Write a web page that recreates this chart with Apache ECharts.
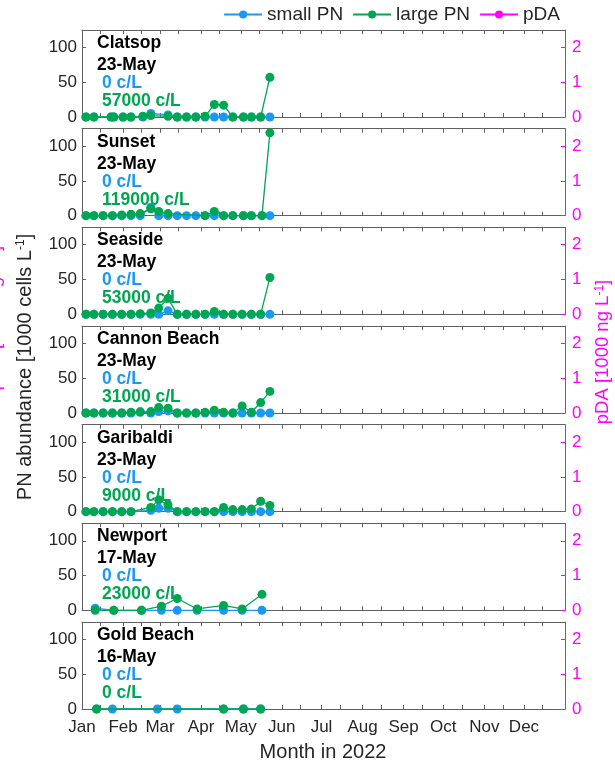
<!DOCTYPE html>
<html><head><meta charset="utf-8">
<script src="https://cdn.jsdelivr.net/npm/echarts@6/dist/echarts.min.js"></script>
<style>html,body{margin:0;padding:0;background:#fff}#c{width:615px;height:763px}</style>
</head><body><div id="c"></div>
<script>
const monthLabels = ['Jan','Feb','Mar','Apr','May','Jun','Jul','Aug','Sep','Oct','Nov','Dec'];
const siteNames = ['Clatsop','Sunset','Seaside','Cannon Beach','Garibaldi','Newport','Gold Beach'];
const latestDates = ['23-May','23-May','23-May','23-May','23-May','17-May','16-May'];
const latestSmall = [0,0,0,0,0,0,0];
const latestLarge = [57000,119000,53000,31000,9000,23000,0];
const leftTicks = [0,50,100];
const rightTicks = [0,1,2];

// Clatsop
const clatsopDates = ['2022-01-04','2022-01-10','2022-01-23','2022-01-25','2022-02-01','2022-02-07','2022-02-16','2022-02-22','2022-03-07','2022-03-14','2022-03-21','2022-03-28','2022-04-04','2022-04-11','2022-04-18','2022-04-25','2022-05-03','2022-05-09','2022-05-16','2022-05-23'];
const clatsopSmall = [0,0,0,0,0,0,0,5,3,0,0,0,0,0,0,0,0,0,0,0];
const clatsopLarge = [0,0,0,0,0,0,1,2,1,0,0,0,1,18,17,0,0,0,0,57];
// Sunset
const sunsetDates = ['2022-01-04','2022-01-10','2022-01-17','2022-01-24','2022-01-31','2022-02-07','2022-02-14','2022-02-22','2022-02-28','2022-03-07','2022-03-14','2022-03-21','2022-03-28','2022-04-04','2022-04-11','2022-04-18','2022-04-25','2022-05-03','2022-05-09','2022-05-17','2022-05-23'];
const sunsetSmall = [0,0,0,0,0,0,0,12,0,0,0,0,0,0,0,0,0,0,0,0,0];
const sunsetLarge = [0,0,0,0,1,2,3,10,6,3,null,null,null,0,6,0,0,0,0,0,119];
// Seaside
const seasideDates = ['2022-01-04','2022-01-10','2022-01-17','2022-01-24','2022-01-31','2022-02-07','2022-02-14','2022-02-22','2022-02-28','2022-03-07','2022-03-14','2022-03-21','2022-03-28','2022-04-04','2022-04-11','2022-04-18','2022-04-25','2022-05-02','2022-05-09','2022-05-16','2022-05-23'];
const seasideSmall = [0,0,0,0,0,0,0,0,0,5,0,0,0,0,0,0,0,0,0,0,0];
const seasideLarge = [0,0,0,0,0,0,1,2,9,23,0,0,0,0,4,0,0,0,0,0,53];
// Cannon Beach
const cannonDates = ['2022-01-04','2022-01-10','2022-01-17','2022-01-24','2022-01-31','2022-02-07','2022-02-14','2022-02-22','2022-02-28','2022-03-07','2022-03-14','2022-03-21','2022-03-28','2022-04-04','2022-04-11','2022-04-18','2022-04-25','2022-05-02','2022-05-09','2022-05-16','2022-05-23'];
const cannonSmall = [0,0,0,0,0,0,2,0,2,3,0,0,0,0,0,0,0,0,0,0,0];
const cannonLarge = [0,0,0,0,0,1,1,2,8,7,0,0,0,1,4,1,0,10,1,15,31];
// Garibaldi
const garibaldiDates = ['2022-01-04','2022-01-10','2022-01-17','2022-01-24','2022-01-31','2022-02-07','2022-02-22','2022-02-28','2022-03-07','2022-03-14','2022-03-21','2022-03-28','2022-04-04','2022-04-11','2022-04-18','2022-04-25','2022-05-02','2022-05-09','2022-05-16','2022-05-23'];
const garibaldiSmall = [0,0,0,0,0,0,2,5,5,0,0,0,0,0,0,0,0,0,0,0];
const garibaldiLarge = [0,0,0,0,0,0,6,17,10,0,0,0,0,0,6,3,3,4,15,9];
// Newport
const newportDates = ['2022-01-11','2022-01-25','2022-02-15','2022-03-02','2022-03-14','2022-03-29','2022-04-18','2022-05-02','2022-05-17'];
const newportSmall = [3,0,0,0,0,0,0,0,0];
const newportLarge = [0,0,0,6,17,2,7,2,23];
// Gold Beach
const goldDates = ['2022-01-12','2022-01-24','2022-02-27','2022-03-14','2022-04-18','2022-05-03','2022-05-16'];
const goldSmall = [0,0,0,0,0,0,0];
const goldLarge = [0,null,null,null,0,0,0];
// pDA (no measurements shown)
const pdaDates = [];
const pdaValues = [];

const siteDates = [clatsopDates,sunsetDates,seasideDates,cannonDates,garibaldiDates,newportDates,goldDates];
const siteSmall = [clatsopSmall,sunsetSmall,seasideSmall,cannonSmall,garibaldiSmall,newportSmall,goldSmall];
const siteLarge = [clatsopLarge,sunsetLarge,seasideLarge,cannonLarge,garibaldiLarge,newportLarge,goldLarge];

const BLUE = '#1b98f2', GREEN = '#00a651', PINK = '#ff00ff', GREY = '#606060', TXT = '#262626';
const FONT = '"Liberation Sans", Arial, sans-serif';

function dayOfYear(s){ const p = s.split('-').map(Number); return (Date.UTC(p[0],p[1]-1,p[2]) - Date.UTC(2022,0,1))/86400000; }
const monthStarts = monthLabels.map((m,i)=> (Date.UTC(2022,i,1)-Date.UTC(2022,0,1))/86400000);
const midMonths = monthLabels.map((m,i)=> (Date.UTC(2022,i,15)-Date.UTC(2022,0,1))/86400000);
const xTicks = monthStarts.concat(midMonths).sort((a,b)=>a-b);

const grids=[], xAxes=[], yAxes=[], series=[], graphics=[];
const panelTop = 30, panelH = 87, panelStep = 98.67;
for (let i=0;i<7;i++){
  const top = panelTop + i*panelStep;
  grids.push({left:82, right:50, top:top, height:panelH});
  xAxes.push({gridIndex:i, type:'value', min:0, max:365, position:'bottom',
    axisLine:{show:true, onZero:false, lineStyle:{color:GREY, width:1}},
    axisTick:{show:true, inside:true, length:4, customValues:xTicks, lineStyle:{color:GREY}},
    axisLabel:{show:i===6, customValues:monthStarts, fontSize:17, color:TXT, fontFamily:FONT, margin:10,
      formatter:v=>monthLabels[monthStarts.indexOf(v)]},
    splitLine:{show:false}});
  xAxes.push({gridIndex:i, type:'value', min:0, max:365, position:'top',
    axisLine:{show:true, onZero:false, lineStyle:{color:GREY, width:1}},
    axisTick:{show:true, inside:true, length:4, customValues:xTicks, lineStyle:{color:GREY}},
    axisLabel:{show:false}, splitLine:{show:false}});
  yAxes.push({gridIndex:i, type:'value', min:0, max:125, position:'left',
    axisLine:{show:true, onZero:false, lineStyle:{color:GREY, width:1}},
    axisTick:{show:true, inside:true, length:4, customValues:leftTicks, lineStyle:{color:GREY}},
    axisLabel:{customValues:leftTicks, fontSize:17, color:TXT, fontFamily:FONT, margin:5},
    splitLine:{show:false}});
  yAxes.push({gridIndex:i, type:'value', min:0, max:2.5, position:'right',
    axisLine:{show:true, onZero:false, lineStyle:{color:PINK, width:1}},
    axisTick:{show:true, inside:true, length:4, customValues:rightTicks, lineStyle:{color:PINK}},
    axisLabel:{customValues:rightTicks, fontSize:17, color:PINK, fontFamily:FONT, margin:7},
    splitLine:{show:false}});
  const days = siteDates[i].map(dayOfYear);
  const common = {type:'line', xAxisIndex:2*i, symbol:'circle', symbolSize:9, showSymbol:true, clip:false, connectNulls:true, animation:false};
  series.push(Object.assign({}, common, {name:'small PN', yAxisIndex:2*i, z:2,
    itemStyle:{color:BLUE}, lineStyle:{color:BLUE, width:1.3},
    data: days.map((d,k)=>[d, siteSmall[i][k]])}));
  series.push(Object.assign({}, common, {name:'large PN', yAxisIndex:2*i, z:3,
    itemStyle:{color:GREEN}, lineStyle:{color:GREEN, width:1.3},
    data: days.map((d,k)=>[d, siteLarge[i][k]])}));
  series.push(Object.assign({}, common, {name:'pDA', yAxisIndex:2*i+1, z:4,
    itemStyle:{color:PINK}, lineStyle:{color:PINK, width:1.3},
    data: pdaDates.map((d,k)=>[dayOfYear(d), pdaValues[k]])}));
  const t = Math.round(top);
  const tf = {fontFamily:FONT, fontSize:17.5, fontWeight:'bold', verticalAlign:'middle', align:'left'};
  graphics.push({type:'text', x:97, y:t+13, z:10, style:Object.assign({text:siteNames[i], fill:'#000'}, tf)});
  graphics.push({type:'text', x:97, y:t+35, z:10, style:Object.assign({text:latestDates[i], fill:'#000'}, tf)});
  graphics.push({type:'text', x:102, y:t+53.5, z:10, style:Object.assign({text:latestSmall[i]+' c/L', fill:BLUE}, tf)});
  graphics.push({type:'text', x:102, y:t+71, z:10, style:Object.assign({text:latestLarge[i]+' c/L', fill:GREEN}, tf)});
}

graphics.push({type:'text', x:323, y:752, style:{text:'Month in 2022', fontFamily:FONT, fontSize:20, fill:TXT, align:'center', verticalAlign:'middle'}});
graphics.push({type:'text', x:25, y:367, rotation:Math.PI/2, style:{text:'PN abundance [1000 cells L{s|-1}]', fontFamily:FONT, fontSize:20, fill:TXT, align:'center', verticalAlign:'middle',
  rich:{s:{fontFamily:FONT, fontSize:12, fill:TXT, verticalAlign:'top', padding:[0,0,7,0]}}}});
graphics.push({type:'text', x:603, y:352, rotation:Math.PI/2, style:{text:'pDA [1000 ng L{s|-1}]', fontFamily:FONT, fontSize:18.5, fill:PINK, align:'center', verticalAlign:'middle',
  rich:{s:{fontFamily:FONT, fontSize:12, fill:PINK, verticalAlign:'top', padding:[0,0,7,0]}}}});
graphics.push({type:'text', x:4, y:318, rotation:Math.PI/2, style:{text:'pDA [1000 ng L{s|-1}]', fontFamily:FONT, fontSize:18.5, fill:PINK, align:'center', verticalAlign:'bottom',
  rich:{s:{fontFamily:FONT, fontSize:12, fill:PINK, verticalAlign:'top', padding:[0,0,7,0]}}}});

const chart = echarts.init(document.getElementById('c'), null, {renderer:'canvas'});
chart.setOption({
  animation:false,
  backgroundColor:'#fff',
  legend:{top:0, right:50, itemWidth:38, itemHeight:10, itemGap:9, data:['small PN','large PN','pDA'],
    textStyle:{fontSize:19, color:TXT, fontFamily:FONT}},
  grid:grids, xAxis:xAxes, yAxis:yAxes, series:series, graphic:graphics
});
</script></body></html>
